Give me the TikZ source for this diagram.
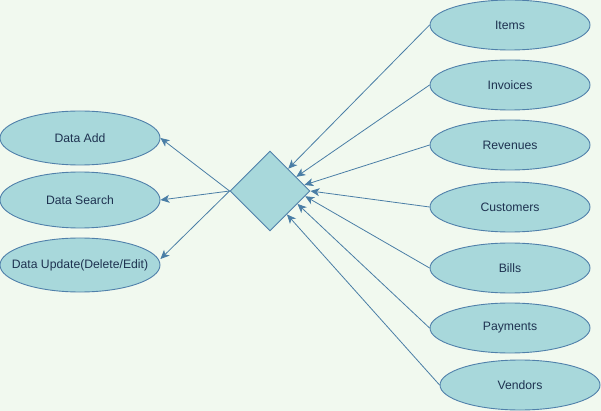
\documentclass[tikz,border=0pt]{standalone}
\usepackage{fontspec}
\setmainfont{Liberation Sans}
\usetikzlibrary{shapes.geometric,arrows.meta,calc}
\definecolor{bgc}{HTML}{F1F9EF}
\definecolor{fillc}{HTML}{A8D8DB}
\definecolor{edgec}{HTML}{5080AA}
\definecolor{linec}{HTML}{4A7EA6}
\definecolor{textc}{HTML}{1E3250}
\tikzset{
  ent/.style={ellipse, draw=edgec, fill=fillc, line width=0.9pt, minimum width=160pt, minimum height=50pt, inner sep=0pt, text=textc, font=\fontsize{12.2}{14}\selectfont},
  lbl/.style={text=textc, font=\fontsize{12.2}{14}\selectfont, inner sep=0pt},
  rel/.style={diamond, draw=edgec, fill=fillc, line width=0.9pt, minimum width=80pt, minimum height=80pt, inner sep=0pt},
  conn/.style={draw=linec, line width=0.8pt, -{Stealth[length=9pt,width=8pt,inset=2.5pt]}}
}
\begin{document}
\begin{tikzpicture}[x=1pt,y=-1pt]
\fill[bgc] (0,0) rectangle (601,411);
\useasboundingbox (0,0) rectangle (601,411);
\node[rel] (d) at (270,191) {};
\node[ent] (items) at (510,25) {Items};
\node[ent] (inv) at (510,85) {Invoices};
\node[ent] (rev) at (510,145) {Revenues};
\node[ent] (cus) at (510,207) {Customers};
\node[ent] (bil) at (510,268) {Bills};
\node[ent] (pay) at (510,328) {Payments};
\node[ent] (ven) at (520,385) {Vendors};
\node[ent, minimum height=54pt] (da) at (80,138) {Data Add};
\node[ent, minimum height=56pt] (ds) at (80,200) {Data Search};
\node[ent, minimum height=54pt] (du) at (80,265) {};
\node[lbl] (dut) at (du.center) {Data Update(Delete/Edit)};
\coordinate (p1) at ($(d.north)!0.45!(d.east)$);
\coordinate (p2) at ($(d.north)!0.65!(d.east)$);
\coordinate (p3) at ($(d.north)!0.85!(d.east)$);
\coordinate (p4) at ($(d.north)!1.0!(d.east)$);
\coordinate (p5) at ($(d.east)!0.13!(d.south)$);
\coordinate (p6) at ($(d.east)!0.32!(d.south)$);
\coordinate (p7) at ($(d.east)!0.58!(d.south)$);
\draw[conn] (items.west) -- (p1);
\draw[conn] (inv.west) -- (p2);
\draw[conn] (rev.west) -- (p3);
\draw[conn] (cus.west) -- (p4);
\draw[conn] (bil.west) -- (p5);
\draw[conn] (pay.west) -- (p6);
\draw[conn] (ven.west) -- (p7);
\draw[conn] (d.west) -- (da.east);
\draw[conn] (d.west) -- (ds.east);
\draw[conn] (d.west) -- ([yshift=6pt]du.east);
\end{tikzpicture}
\end{document}
